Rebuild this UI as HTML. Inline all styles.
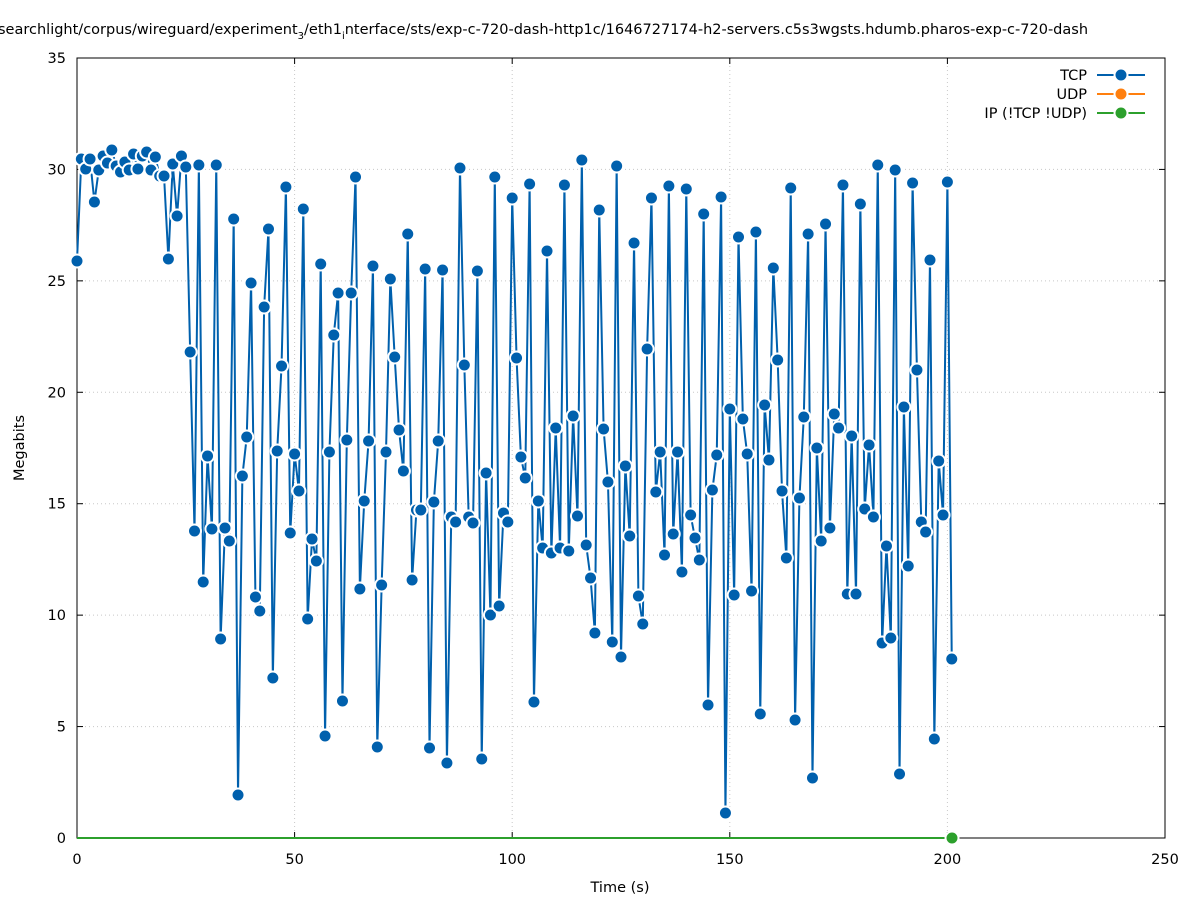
<!DOCTYPE html>
<html><head><meta charset="utf-8"><style>
body{margin:0;background:#fff;overflow:hidden}
svg{display:block;font-family:"DejaVu Sans","Liberation Sans",sans-serif}
</style></head><body>
<svg id="s" width="1197" height="900" xmlns="http://www.w3.org/2000/svg">
<rect width="1197" height="900" fill="#fff"/>
<g id="grid" stroke="#c8c8c8" stroke-width="1" stroke-dasharray="1,3"></g>
<rect x="77" y="58" width="1088" height="780" fill="none" stroke="#000" stroke-width="1"/>
<g id="ticks" stroke="#000" stroke-width="1"></g>
<g id="labels" font-size="14.5" fill="#000"></g>
<text x="-2" y="34" font-size="14.5">searchlight/corpus/wireguard/experiment<tspan font-size="10" dy="5">3</tspan><tspan dy="-5">/eth1</tspan><tspan font-size="10" dy="5">i</tspan><tspan dy="-5">nterface/sts/exp-c-720-dash-http1c/1646727174-h2-servers.c5s3wgsts.hdumb.pharos-exp-c-720-dash</tspan></text>
<text x="620" y="892" font-size="14.5" text-anchor="middle">Time (s)</text>
<text x="24" y="448" font-size="14.5" text-anchor="middle" transform="rotate(-90 24 448)">Megabits</text>
<g font-size="14.5" text-anchor="end">
<text x="1087" y="80">TCP</text>
<text x="1087" y="99">UDP</text>
<text x="1087" y="118">IP (!TCP  !UDP)</text>
</g>
<line x1="1097" y1="75" x2="1145" y2="75" stroke="#0060ad" stroke-width="2"/><circle cx="1121" cy="75" r="6.5" fill="#0060ad" stroke="#fff" stroke-width="2"/>
<line x1="1097" y1="94" x2="1145" y2="94" stroke="#ff7f0e" stroke-width="2"/><circle cx="1121" cy="94" r="6.5" fill="#ff7f0e" stroke="#fff" stroke-width="2"/>
<line x1="1097" y1="113" x2="1145" y2="113" stroke="#2ca02c" stroke-width="2"/><circle cx="1121" cy="113" r="6.5" fill="#2ca02c" stroke="#fff" stroke-width="2"/>
<line x1="77" y1="838" x2="951" y2="838" stroke="#2ca02c" stroke-width="2"/>
<g id="data"></g>
<circle cx="952" cy="838" r="6.5" fill="#2ca02c" stroke="#fff" stroke-width="2"/>
</svg>
<script>
var NS="http://www.w3.org/2000/svg";
function el(t,a,p){var e=document.createElementNS(NS,t);for(var k in a)e.setAttribute(k,a[k]);document.getElementById(p).appendChild(e);return e;}
for(var i=0;i<=5;i++){var x=77+i*217.6;
 if(i>0&&i<5)el("line",{x1:x,y1:58,x2:x,y2:838},"grid");
 el("line",{x1:x,y1:838,x2:x,y2:832},"ticks");el("line",{x1:x,y1:58,x2:x,y2:64},"ticks");
 var t=el("text",{x:x,y:864,"text-anchor":"middle"},"labels");t.textContent=i*50;}
for(var j=0;j<=7;j++){var y=838-j*111.43;
 if(j>0&&j<7)el("line",{x1:77,y1:y,x2:1165,y2:y},"grid");
 el("line",{x1:77,y1:y,x2:83,y2:y},"ticks");el("line",{x1:1165,y1:y,x2:1159,y2:y},"ticks");
 var t=el("text",{x:66,y:y+5,"text-anchor":"end"},"labels");t.textContent=j*5;}
var ys=[261,159,169,159,202,170,156,163,150,166,172,162,170,154,169,156,152,170,157,176,176,259,164,216,156,167,352,531,165,582,456,529,165,639,528,541,219,795,476,437,283,597,611,307,229,678,451,366,187,533,454,491,209,619,539,561,264,736,452,335,293,701,440,293,177,589,501,441,266,747,585,452,279,357,430,471,234,580,510,510,269,748,502,441,270,763,517,522,168,365,517,523,271,759,473,615,177,606,513,522,198,358,457,478,184,702,501,548,251,553,428,548,185,551,416,516,160,545,578,633,210,429,482,642,166,657,466,536,243,596,624,349,198,492,452,555,186,534,452,572,189,515,538,560,214,705,490,455,197,813,409,595,237,419,454,591,232,714,405,460,268,360,491,558,188,720,498,417,234,778,448,541,224,528,414,428,185,594,436,594,204,509,445,517,165,643,546,638,170,774,407,566,183,370,522,532,260,739,461,515,182,659];
var pts=ys.map(function(y,i){return [77+i*4.352,y];});
el("polyline",{points:pts.map(function(p){return p.join(",")}).join(" "),fill:"none",stroke:"#0060ad","stroke-width":2},"data");
pts.forEach(function(p){el("circle",{cx:p[0],cy:p[1],r:6.5,fill:"#0060ad",stroke:"#fff","stroke-width":2},"data");});
</script>
</body></html>
